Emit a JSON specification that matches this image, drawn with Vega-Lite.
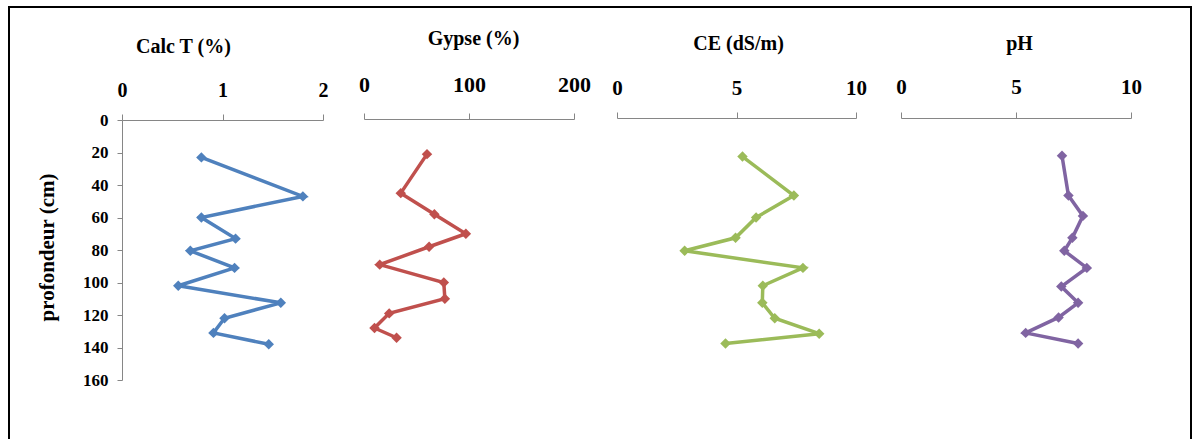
{
  "$schema": "https://vega.github.io/schema/vega-lite/v6.json",
  "width": 1182,
  "height": 436,
  "autosize": {"type": "none"},
  "padding": {"left": 9, "top": 7, "right": 6, "bottom": -4},
  "background": "white",
  "view": {"stroke": "#000000", "strokeWidth": 2, "fill": "white"},
  "config": {
    "font": "Liberation Serif",
    "axis": {
      "grid": false,
      "labelFlush": false,
      "domainColor": "#868686",
      "tickColor": "#868686",
      "domainWidth": 1,
      "tickWidth": 1,
      "labelFont": "Liberation Serif",
      "labelFontWeight": "bold",
      "labelColor": "#000000",
      "titleFont": "Liberation Serif",
      "titleFontWeight": "bold",
      "titleColor": "#000000"
    }
  },
  "datasets": {
    "calc": [
      {"depth": 23, "value": 0.79},
      {"depth": 47, "value": 1.80},
      {"depth": 60, "value": 0.79},
      {"depth": 73, "value": 1.13},
      {"depth": 80.5, "value": 0.68},
      {"depth": 91, "value": 1.12},
      {"depth": 102, "value": 0.56},
      {"depth": 112.5, "value": 1.58},
      {"depth": 122, "value": 1.02},
      {"depth": 131, "value": 0.91},
      {"depth": 138, "value": 1.46}
    ],
    "gypse": [
      {"depth": 21, "value": 60},
      {"depth": 45, "value": 35},
      {"depth": 58, "value": 67},
      {"depth": 70, "value": 97},
      {"depth": 78, "value": 62},
      {"depth": 89, "value": 15},
      {"depth": 100, "value": 76},
      {"depth": 110, "value": 77},
      {"depth": 119, "value": 24},
      {"depth": 128, "value": 10},
      {"depth": 134, "value": 31}
    ],
    "ce": [
      {"depth": 22.5, "value": 5.25},
      {"depth": 46.5, "value": 7.40},
      {"depth": 60, "value": 5.82},
      {"depth": 72.5, "value": 4.96},
      {"depth": 80.5, "value": 2.83},
      {"depth": 91, "value": 7.78},
      {"depth": 102, "value": 6.10},
      {"depth": 112.5, "value": 6.08},
      {"depth": 122, "value": 6.60},
      {"depth": 131.5, "value": 8.46},
      {"depth": 137.5, "value": 4.54}
    ],
    "ph": [
      {"depth": 22, "value": 7.0},
      {"depth": 46.5, "value": 7.28},
      {"depth": 59, "value": 7.91},
      {"depth": 72.5, "value": 7.45},
      {"depth": 80.5, "value": 7.1},
      {"depth": 91, "value": 8.08},
      {"depth": 102.5, "value": 6.97},
      {"depth": 112.5, "value": 7.7},
      {"depth": 121.5, "value": 6.85},
      {"depth": 131, "value": 5.42},
      {"depth": 137.5, "value": 7.7}
    ]
  },
  "encoding": {
    "y": {
      "field": "depth",
      "type": "quantitative",
      "scale": {"domain": [0, 160], "range": [113, 373], "nice": false, "zero": false},
      "axis": {
        "orient": "left",
        "offset": -113,
        "values": [0, 20, 40, 60, 80, 100, 120, 140, 160],
        "labelExpr": "toString(datum.value)",
        "labelOverlap": false,
        "tickSize": 5,
        "labelPadding": 9,
        "labelFontSize": 17,
        "title": "profondeur (cm)",
        "titleFontSize": 21,
        "titleAngle": -90,
        "titleX": -75,
        "titleY": 240,
        "titleAlign": "center",
        "titleBaseline": "middle"
      }
    },
    "order": {"field": "depth", "type": "quantitative"}
  },
  "layer": [
    {
      "data": {"name": "calc"},
      "mark": {"type": "line", "color": "#4F81BD", "strokeWidth": 3.5, "point": {"shape": "diamond", "size": 110, "filled": true, "color": "#4F81BD", "opacity": 1}},
      "encoding": {
        "x": {
          "field": "value",
          "type": "quantitative",
          "scale": {"domain": [0, 2], "range": [113, 314], "nice": false, "zero": false},
          "axis": {
            "orient": "top",
            "offset": -113,
            "values": [0, 1, 2],
            "labelExpr": "toString(datum.value)",
            "labelOverlap": false,
            "tickSize": 6,
            "labelPadding": 24,
            "labelBaseline": "middle",
            "labelFontSize": 20,
            "title": "Calc T (%)",
            "titleFontSize": 20,
            "titleX": 174,
            "titleY": -74,
            "titleAlign": "center",
            "titleBaseline": "middle"
          }
        }
      }
    },
    {
      "data": {"name": "gypse"},
      "mark": {"type": "line", "color": "#C0504D", "strokeWidth": 3.5, "point": {"shape": "diamond", "size": 110, "filled": true, "color": "#C0504D", "opacity": 1}},
      "encoding": {
        "x": {
          "field": "value",
          "type": "quantitative",
          "scale": {"domain": [0, 200], "range": [355, 565], "nice": false, "zero": false},
          "axis": {
            "orient": "top",
            "offset": -112,
            "values": [0, 100, 200],
            "labelExpr": "toString(datum.value)",
            "labelOverlap": false,
            "tickSize": 6,
            "labelPadding": 29,
            "labelBaseline": "middle",
            "labelFontSize": 22,
            "title": "Gypse (%)",
            "titleFontSize": 20,
            "titleX": 464,
            "titleY": -81,
            "titleAlign": "center",
            "titleBaseline": "middle"
          }
        }
      }
    },
    {
      "data": {"name": "ce"},
      "mark": {"type": "line", "color": "#9BBB59", "strokeWidth": 3.5, "point": {"shape": "diamond", "size": 110, "filled": true, "color": "#9BBB59", "opacity": 1}},
      "encoding": {
        "x": {
          "field": "value",
          "type": "quantitative",
          "scale": {"domain": [0, 10], "range": [608, 847], "nice": false, "zero": false},
          "axis": {
            "orient": "top",
            "offset": -111,
            "values": [0, 5, 10],
            "labelExpr": "toString(datum.value)",
            "labelOverlap": false,
            "tickSize": 6,
            "labelPadding": 24,
            "labelBaseline": "middle",
            "labelFontSize": 21,
            "title": "CE (dS/m)",
            "titleFontSize": 20,
            "titleX": 729,
            "titleY": -75,
            "titleAlign": "center",
            "titleBaseline": "middle"
          }
        }
      }
    },
    {
      "data": {"name": "ph"},
      "mark": {"type": "line", "color": "#8064A2", "strokeWidth": 3.5, "point": {"shape": "diamond", "size": 110, "filled": true, "color": "#8064A2", "opacity": 1}},
      "encoding": {
        "x": {
          "field": "value",
          "type": "quantitative",
          "scale": {"domain": [0, 10], "range": [892, 1122], "nice": false, "zero": false},
          "axis": {
            "orient": "top",
            "offset": -111,
            "values": [0, 5, 10],
            "labelExpr": "toString(datum.value)",
            "labelOverlap": false,
            "tickSize": 6,
            "labelPadding": 25,
            "labelBaseline": "middle",
            "labelFontSize": 21,
            "title": "pH",
            "titleFontSize": 20,
            "titleX": 1010,
            "titleY": -75,
            "titleAlign": "center",
            "titleBaseline": "middle"
          }
        }
      }
    }
  ],
  "resolve": {"scale": {"x": "independent"}, "axis": {"x": "independent"}}
}
